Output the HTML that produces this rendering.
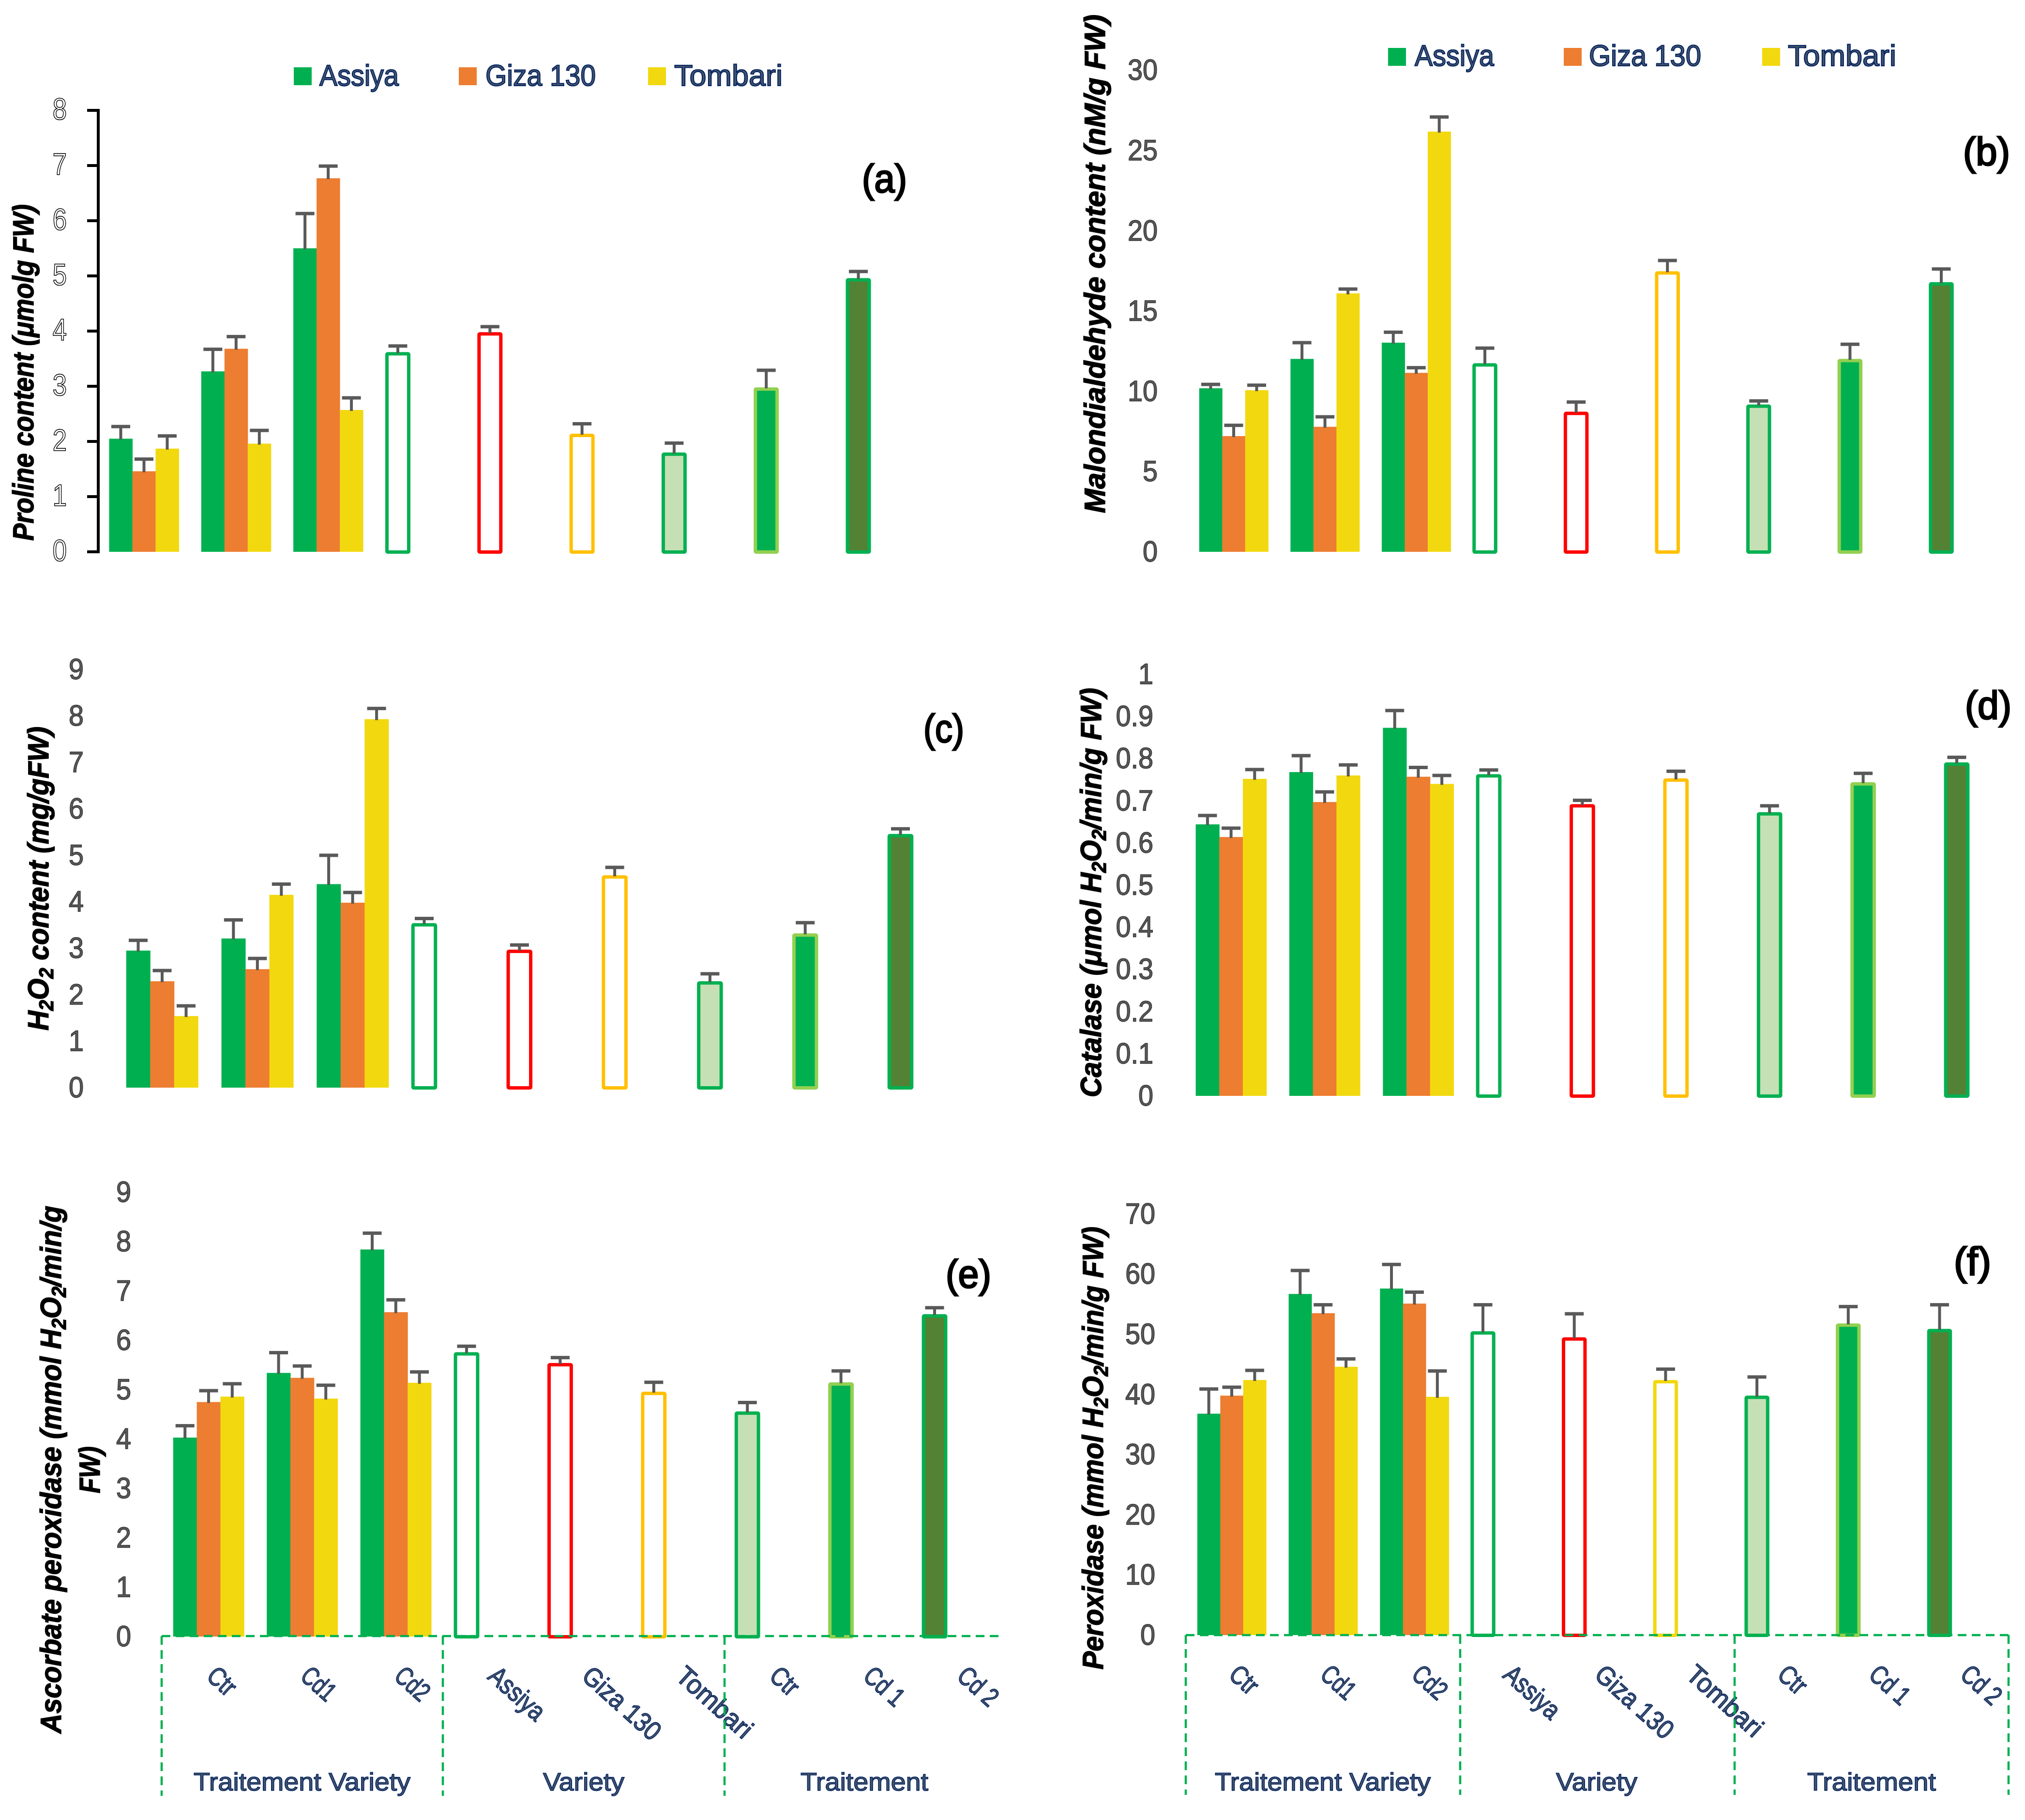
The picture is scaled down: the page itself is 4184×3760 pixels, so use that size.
<!DOCTYPE html>
<html lang="en">
<head>
<meta charset="utf-8">
<title>Biochemical responses of three varieties under cadmium treatment</title>
<style>
html,body{margin:0;padding:0;background:#fff;}
svg{display:block;}
.title{font-family:"Liberation Sans",sans-serif;font-weight:bold;font-style:italic;font-size:60px;fill:#000;stroke:#000;stroke-width:1.5;}
.sub{font-size:42px;}
.legend-text{font-family:"Liberation Sans",sans-serif;font-size:61px;fill:#44546A;stroke:#002060;stroke-width:2;}
.group-label{font-family:"Liberation Sans",sans-serif;font-size:52px;fill:#44546A;stroke:#002060;stroke-width:1.5;}
.panel-letter{font-family:"Liberation Sans",sans-serif;font-size:82px;fill:#000;stroke:#000;stroke-width:3;}
.dash{stroke:#00B050;stroke-width:4.5;stroke-dasharray:18 11;fill:none;}
</style>
</head>
<body>
<svg id="figure" xmlns="http://www.w3.org/2000/svg" width="4184" height="3760" viewBox="0 0 4184 3760">
  <rect x="0" y="0" width="4184" height="3760" fill="#fff"/>

  <g id="panel-a">
    <text class="title" transform="translate(69,1117) rotate(-90)" textLength="695" lengthAdjust="spacingAndGlyphs">Proline content (μmolg FW)</text>
    <text class="panel-letter" x="1781" y="397" textLength="93" lengthAdjust="spacingAndGlyphs">(a)</text>
    <g>
      <rect x="607" y="139" width="37" height="37" fill="#00B050"/>
      <text class="legend-text" x="660" y="177" textLength="164" lengthAdjust="spacingAndGlyphs">Assiya</text>
      <rect x="948" y="139" width="37" height="37" fill="#ED7D31"/>
      <text class="legend-text" x="1003" y="177" textLength="228" lengthAdjust="spacingAndGlyphs">Giza 130</text>
      <rect x="1339" y="139" width="37" height="37" fill="#F2D80F"/>
      <text class="legend-text" x="1393" y="177" textLength="224" lengthAdjust="spacingAndGlyphs">Tombari</text>
    </g>
  </g>

  <g id="panel-b">
    <text class="title" transform="translate(2283,1060) rotate(-90)" textLength="1030" lengthAdjust="spacingAndGlyphs">Malondialdehyde content (nM/g FW)</text>
    <text class="panel-letter" x="4056" y="341" textLength="97" lengthAdjust="spacingAndGlyphs">(b)</text>
    <g>
      <rect x="2868" y="99" width="37" height="37" fill="#00B050"/>
      <text class="legend-text" x="2923" y="136" textLength="164" lengthAdjust="spacingAndGlyphs">Assiya</text>
      <rect x="3231" y="99" width="37" height="37" fill="#ED7D31"/>
      <text class="legend-text" x="3283" y="136" textLength="232" lengthAdjust="spacingAndGlyphs">Giza 130</text>
      <rect x="3641" y="99" width="37" height="37" fill="#F2D80F"/>
      <text class="legend-text" x="3694" y="136" textLength="224" lengthAdjust="spacingAndGlyphs">Tombari</text>
    </g>
  </g>

  <g id="panel-c">
    <text class="title" transform="translate(100,2129) rotate(-90)" textLength="628" lengthAdjust="spacingAndGlyphs">H<tspan class="sub" dy="10">2</tspan><tspan dy="-10">O</tspan><tspan class="sub" dy="10">2</tspan><tspan dy="-10"> content (mg/gFW)</tspan></text>
    <text class="panel-letter" x="1908" y="1533" textLength="84" lengthAdjust="spacingAndGlyphs">(c)</text>
  </g>

  <g id="panel-d">
    <text class="title" transform="translate(2275,2267) rotate(-90)" textLength="846" lengthAdjust="spacingAndGlyphs">Catalase (μmol H<tspan class="sub" dy="10">2</tspan><tspan dy="-10">O</tspan><tspan class="sub" dy="10">2</tspan><tspan dy="-10">/min/g FW)</tspan></text>
    <text class="panel-letter" x="4060" y="1485" textLength="96" lengthAdjust="spacingAndGlyphs">(d)</text>
  </g>

  <g id="panel-e">
    <text class="title" transform="translate(126,3581) rotate(-90)" textLength="1090" lengthAdjust="spacingAndGlyphs">Ascorbate peroxidase (mmol H<tspan class="sub" dy="10">2</tspan><tspan dy="-10">O</tspan><tspan class="sub" dy="10">2</tspan><tspan dy="-10">/min/g</tspan></text>
    <text class="title" transform="translate(206,3085) rotate(-90)" textLength="97" lengthAdjust="spacingAndGlyphs">FW)</text>
    <text class="panel-letter" x="1954" y="2660" textLength="94" lengthAdjust="spacingAndGlyphs">(e)</text>
    <text class="group-label" x="400" y="3699" textLength="448" lengthAdjust="spacingAndGlyphs">Traitement Variety</text>
    <text class="group-label" x="1122" y="3699" textLength="168" lengthAdjust="spacingAndGlyphs">Variety</text>
    <text class="group-label" x="1654" y="3699" textLength="264" lengthAdjust="spacingAndGlyphs">Traitement</text>
  </g>

  <g id="panel-f">
    <text class="title" transform="translate(2279,3449) rotate(-90)" textLength="915" lengthAdjust="spacingAndGlyphs">Peroxidase (mmol H<tspan class="sub" dy="10">2</tspan><tspan dy="-10">O</tspan><tspan class="sub" dy="10">2</tspan><tspan dy="-10">/min/g FW)</tspan></text>
    <text class="panel-letter" x="4037" y="2634" textLength="77" lengthAdjust="spacingAndGlyphs">(f)</text>
    <text class="group-label" x="2510" y="3699" textLength="446" lengthAdjust="spacingAndGlyphs">Traitement Variety</text>
    <text class="group-label" x="3215" y="3699" textLength="168" lengthAdjust="spacingAndGlyphs">Variety</text>
    <text class="group-label" x="3734" y="3699" textLength="266" lengthAdjust="spacingAndGlyphs">Traitement</text>
  </g>

  <g id="overlay">
    <line class="dash" x1="334" y1="3380" x2="2072" y2="3380"/>
    <line class="dash" x1="334" y1="3380" x2="334" y2="3710"/>
    <line class="dash" x1="915" y1="3380" x2="915" y2="3710"/>
    <line class="dash" x1="1497" y1="3380" x2="1497" y2="3710"/>
    <line class="dash" x1="2450" y1="3378" x2="4150" y2="3378"/>
    <line class="dash" x1="2450" y1="3378" x2="2450" y2="3708"/>
    <line class="dash" x1="3017" y1="3378" x2="3017" y2="3708"/>
    <line class="dash" x1="3584" y1="3378" x2="3584" y2="3708"/>
    <line class="dash" x1="4150" y1="3378" x2="4150" y2="3708"/>
  </g>
</svg>

<script>
/* ---------- shared categories ---------- */
const seriesNames = ['Assiya', 'Giza 130', 'Tombari'];
const singleNames = ['Assiya', 'Giza 130', 'Tombari', 'Ctr', 'Cd 1', 'Cd 2'];
const xCategories = ['Ctr', 'Cd1', 'Cd2', 'Assiya', 'Giza 130', 'Tombari', 'Ctr', 'Cd 1', 'Cd 2'];

/* ---------- panel a: proline ---------- */
const aTicks = ['0', '1', '2', '3', '4', '5', '6', '7', '8'];
const aAssiya = [2.05, 3.27, 5.50];
const aGiza = [1.46, 3.68, 6.77];
const aTombari = [1.87, 1.96, 2.57];
const aAssiyaErr = [0.22, 0.40, 0.63];
const aGizaErr = [0.22, 0.22, 0.22];
const aTombariErr = [0.23, 0.24, 0.22];
const aSingles = [3.62, 3.98, 2.14, 1.80, 2.98, 4.96];
const aSinglesErr = [0.11, 0.10, 0.18, 0.17, 0.31, 0.12];

/* ---------- panel b: malondialdehyde ---------- */
const bTicks = ['0', '5', '10', '15', '20', '25', '30'];
const bAssiya = [10.19, 12.02, 13.03];
const bGiza = [7.21, 7.79, 11.15];
const bTombari = [10.07, 16.1, 26.18];
const bAssiyaErr = [0.24, 1.01, 0.65];
const bGizaErr = [0.67, 0.62, 0.32];
const bTombariErr = [0.31, 0.27, 0.91];
const bSingles = [11.75, 8.73, 17.48, 9.18, 12.02, 16.80];
const bSinglesErr = [0.94, 0.60, 0.67, 0.22, 0.91, 0.82];

/* ---------- panel c: H2O2 ---------- */
const cTicks = ['0', '1', '2', '3', '4', '5', '6', '7', '8', '9'];
const cAssiya = [2.95, 3.21, 4.38];
const cGiza = [2.29, 2.55, 3.98];
const cTombari = [1.54, 4.15, 7.93];
const cAssiyaErr = [0.22, 0.40, 0.62];
const cGizaErr = [0.23, 0.23, 0.22];
const cTombariErr = [0.22, 0.23, 0.23];
const cSingles = [3.54, 2.97, 4.57, 2.29, 3.32, 5.46];
const cSinglesErr = [0.10, 0.10, 0.17, 0.16, 0.23, 0.11];

/* ---------- panel d: catalase ---------- */
const dTicks = ['0', '0.1', '0.2', '0.3', '0.4', '0.5', '0.6', '0.7', '0.8', '0.9', '1'];
const dAssiya = [0.644, 0.768, 0.873];
const dGiza = [0.614, 0.697, 0.757];
const dTombari = [0.752, 0.760, 0.740];
const dAssiyaErr = [0.021, 0.039, 0.041];
const dGizaErr = [0.021, 0.024, 0.022];
const dTombariErr = [0.022, 0.025, 0.020];
const dSingles = [0.763, 0.692, 0.753, 0.673, 0.744, 0.791];
const dSinglesErr = [0.010, 0.009, 0.017, 0.015, 0.021, 0.012];

/* ---------- panel e: ascorbate peroxidase ---------- */
const eTicks = ['0', '1', '2', '3', '4', '5', '6', '7', '8', '9'];
const eAssiya = [4.03, 5.34, 7.84];
const eGiza = [4.75, 5.24, 6.57];
const eTombari = [4.86, 4.82, 5.14];
const eAssiyaErr = [0.24, 0.41, 0.33];
const eGizaErr = [0.23, 0.24, 0.25];
const eTombariErr = [0.26, 0.27, 0.22];
const eSingles = [5.76, 5.54, 4.96, 4.56, 5.15, 6.53];
const eSinglesErr = [0.12, 0.11, 0.19, 0.18, 0.23, 0.13];

/* ---------- panel f: peroxidase ---------- */
const fTicks = ['0', '10', '20', '30', '40', '50', '60', '70'];
const fAssiya = [36.8, 56.7, 57.6];
const fGiza = [39.8, 53.5, 55.1];
const fTombari = [42.4, 44.6, 39.6];
const fAssiyaErr = [4.1, 3.9, 4.0];
const fGizaErr = [1.4, 1.4, 1.9];
const fTombariErr = [1.6, 1.3, 4.3];
const fSingles = [50.5, 49.5, 42.4, 39.8, 51.8, 50.9];
const fSinglesErr = [4.4, 3.9, 1.8, 3.1, 2.8, 4.0];

/* ---------- drawing ---------- */
const NS = 'http://www.w3.org/2000/svg';
const seriesColor = { 'Assiya': '#00B050', 'Giza 130': '#ED7D31', 'Tombari': '#F2D80F' };
const labelLength = { 'Ctr': 60, 'Cd1': 76, 'Cd2': 76, 'Assiya': 136, 'Giza 130': 197, 'Tombari': 191, 'Cd 1': 92, 'Cd 2': 92 };

function mk(tag, attrs, parent) {
  const n = document.createElementNS(NS, tag);
  for (const k in attrs) n.setAttribute(k, attrs[k]);
  parent.appendChild(n);
  return n;
}

function errorBar(g, cx, value, err, yOf) {
  const stem = mk('rect', { x: cx - 3, y: yOf(value + err), width: 6, height: yOf(value) - yOf(value + err) + 2, fill: '#595959' }, g);
  
  
  const cap = mk('rect', { x: cx - 19.5, y: yOf(value + err) - 3.5, width: 39, height: 7, fill: '#595959' }, g);
  
  
}

function drawPanel(p) {
  const root = document.getElementById(p.id);
  const g = mk('g', {}, root);
  
  
  const yOf = v => p.base - v * p.unit;
  const xOf = i => p.first + i * p.pitch;
  const xSingle = i => p.singleFirst + i * p.pitch;

  /* y axis tick labels */
  p.ticks.forEach(t => {
    const v = parseFloat(t);
    const label = mk('text', {
      transform: 'translate(' + p.tickRight + ',' + (yOf(v) + (p.outlined ? 19 : 20)) + ') scale(' + (p.outlined ? 0.84 : 0.93) + ',1)',
      'text-anchor': 'end',
      'font-family': '"Liberation Sans", sans-serif',
      'font-size': p.outlined ? 63 : 60,
      fill: p.outlined ? '#fff' : '#595959',
      stroke: p.outlined ? '#000' : '#333',
      'stroke-width': p.outlined ? 1.6 : 1.4
    }, g);
    label.textContent = t;
    
    
    if (p.outlined) {
      const tick = mk('rect', { x: 180, y: yOf(v) - 3, width: 24, height: 6, fill: '#000' }, g);
      
      
    }
  });

  if (p.outlined) {
    const top = parseFloat(p.ticks[p.ticks.length - 1]);
    const axis = mk('rect', { x: 200, y: yOf(top) - 3, width: 6, height: yOf(0) - yOf(top) + 6, fill: '#000' }, g);
    
    
  }

  /* grouped bars: treatment x variety */
  p.series.forEach((vals, s) => {
    vals.forEach((v, i) => {
      const bar = mk('rect', {
        x: xOf(i) + (s - 1.5) * p.barW, y: yOf(v),
        width: p.barW + 0.5, height: yOf(0) - yOf(v),
        fill: seriesColor[seriesNames[s]]
      }, g);
      
      
    });
  });
  p.series.forEach((vals, s) => {
    vals.forEach((v, i) => {
      errorBar(g, xOf(i) + (s - 1) * p.barW, v, p.errors[s][i], yOf);
    });
  });

  /* single bars: variety and treatment means */
  const fills = ['#fff', '#fff', '#fff', '#C5E0B4', '#00B050', '#548235'];
  const strokes = ['#00B050', '#FF0000', p.tombariStroke, '#00B050', '#92D050', '#00B050'];
  p.singles.forEach((v, i) => {
    const cx = xSingle(i);
    const w = p.barW - 3;
    const bar = mk('rect', {
      x: cx - w / 2, y: yOf(v) + 3.5,
      width: w, height: yOf(0) - yOf(v) - 3,
      fill: fills[i], stroke: strokes[i], 'stroke-width': 7, rx: 1.5
    }, g);
    
    
    errorBar(g, cx, v, p.singlesErr[i], yOf);
  });

  /* rotated x tick labels (bottom row only) */
  if (p.labelX !== undefined) {
    xCategories.forEach((c, i) => {
      const label = mk('text', {
        transform: 'translate(' + (p.labelX + i * p.labelPitch) + ',' + p.labelY + ') rotate(42)',
        'font-family': '"Liberation Sans", sans-serif',
        'font-size': 55,
        fill: '#44546A',
        stroke: '#002060',
        'stroke-width': 1.5,
        textLength: labelLength[c],
        lengthAdjust: 'spacingAndGlyphs'
      }, g);
      label.textContent = c;
      
      
    });
  }
}

drawPanel({ id: 'panel-a', base: 1140, unit: 114, first: 297.5, singleFirst: 822, pitch: 190.3, barW: 48, tickRight: 138, outlined: true, tombariStroke: '#FFC000',
  ticks: aTicks, series: [aAssiya, aGiza, aTombari], errors: [aAssiyaErr, aGizaErr, aTombariErr], singles: aSingles, singlesErr: aSinglesErr });
drawPanel({ id: 'panel-b', base: 1140, unit: 33.16, first: 2549, singleFirst: 3068, pitch: 188.6, barW: 47.5, tickRight: 2392, tombariStroke: '#FFC000',
  ticks: bTicks, series: [bAssiya, bGiza, bTombari], errors: [bAssiyaErr, bGizaErr, bTombariErr], singles: bSingles, singlesErr: bSinglesErr });
drawPanel({ id: 'panel-c', base: 2247, unit: 96, first: 335, singleFirst: 876.5, pitch: 196.8, barW: 49.5, tickRight: 173, tombariStroke: '#FFC000',
  ticks: cTicks, series: [cAssiya, cGiza, cTombari], errors: [cAssiyaErr, cGizaErr, cTombariErr], singles: cSingles, singlesErr: cSinglesErr });
drawPanel({ id: 'panel-d', base: 2264, unit: 871, first: 2543.6, singleFirst: 3076, pitch: 193.4, barW: 48.7, tickRight: 2383, tombariStroke: '#FFC000',
  ticks: dTicks, series: [dAssiya, dGiza, dTombari], errors: [dAssiyaErr, dGizaErr, dTombariErr], singles: dSingles, singlesErr: dSinglesErr });
drawPanel({ id: 'panel-e', base: 3381, unit: 102, first: 431, singleFirst: 964, pitch: 193.4, barW: 48.8, tickRight: 271, tombariStroke: '#FFC000',
  labelX: 424, labelPitch: 193.8, labelY: 3467,
  ticks: eTicks, series: [eAssiya, eGiza, eTombari], errors: [eAssiyaErr, eGizaErr, eTombariErr], singles: eSingles, singlesErr: eSinglesErr });
drawPanel({ id: 'panel-f', base: 3378, unit: 12.43, first: 2545, singleFirst: 3064, pitch: 188.7, barW: 47.4, tickRight: 2387, tombariStroke: '#F2D80F',
  labelX: 2536, labelPitch: 188.9, labelY: 3464,
  ticks: fTicks, series: [fAssiya, fGiza, fTombari], errors: [fAssiyaErr, fGizaErr, fTombariErr], singles: fSingles, singlesErr: fSinglesErr });

/* keep the dashed brackets above the bars */
document.getElementById('figure').appendChild(document.getElementById('overlay'));
</script>
</body>
</html>
